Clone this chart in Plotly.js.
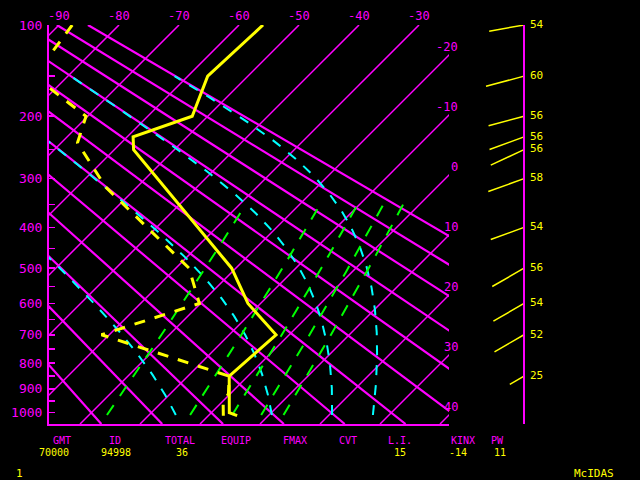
<!DOCTYPE html>
<html><head><meta charset="utf-8">
<script src="https://cdn.plot.ly/plotly-3.0.1.min.js"></script>
<style>html,body{margin:0;padding:0;background:#000;}#chart{width:640px;height:480px;}</style>
</head><body><div id="chart"></div>
<script>
// ---------------- data ----------------
const tempP  = [1013, 1000, 850, 700, 600, 500, 250, 230, 200, 150, 100];
const tempC  = [4.8, 3.0, -3.1, -2.2, -12.1, -20.7, -56.8, -59.0, -52.6, -56.7, -56.0];
const dewP   = [1013, 957, 920, 850, 700, 600, 500, 316, 239, 200, 150, 100];
const dewC   = [2.5, 0.3, -0.3, -3.1, -31.3, -20.2, -27.8, -55.2, -67.3, -70.3, -85.6, -87.8];
const windP   = [100, 150, 200, 230, 250, 300, 400, 500, 600, 700, 850];
const windDir = [260, 255, 255, 250, 245, 250, 250, 240, 240, 240, 240];
const windSpd = [54, 60, 56, 56, 56, 58, 54, 56, 54, 52, 25];
const isotherms     = [-90, -80, -70, -60, -50, -40, -30, -20, -10, 0, 10, 20, 30, 40];
const dryAdiabats   = [-30, -20, -10, 0, 10, 20, 30, 40, 50, 60, 70, 80, 90];   // theta, deg C
const moistAdiabats = [0, 30, 60, 90];                                          // theta-e, deg C
const mixingRatios  = [1, 3, 5, 7, 9];                                          // g/kg
const pressureTicks  = [100,150,200,250,300,350,400,450,500,550,600,650,700,750,800,850,900,950,1000];
const pressureLabels = [100,200,300,400,500,600,700,800,900,1000];
const statNames  = ['GMT', 'ID', 'TOTAL', 'EQUIP', 'FMAX', 'CVT', 'L.I.', 'KINX', 'PW'];
const statValues = ['70000', '94998', '36', '', '', '', '15', '-14', '11'];

// ---------------- diagram geometry ----------------
const KAP = 0.286, PTOP = 100, PBOT = 1050;
const S = p => Math.pow(p, KAP);
const sTop = S(PTOP), sBot = S(PBOT);
const ML = 49, MT = 25, PLOT_W = 591, PLOT_H = 399, DIAG_W = 400;
const PX_PER_S = PLOT_H / (sBot - sTop), PX_PER_C = 6;
const SKEW = PX_PER_S / PX_PER_C;
const XMIN = -91.67, XMAX = XMIN + DIAG_W / PX_PER_C;
const X = (T, p) => T - SKEW * (S(p) - sTop);
const MAG = '#ff00ff', YEL = '#ffff00', CYA = '#00ffff', GRN = '#00ff00';
const FONT = 'DejaVu Sans Mono, monospace';
const px2paperX = px => (px - ML) / PLOT_W;
const px2paperY = py => (MT + PLOT_H - py) / PLOT_H;

function esat(Tc) { return 6.112 * Math.exp(17.67 * Tc / (Tc + 243.5)); }
function thetaE(Tc, p) {
  const T = Tc + 273.15, es = esat(Tc);
  if (es > 0.5 * p) return 1e9;
  const ws = 0.622 * es / (p - es);
  return T * Math.pow(1000 / p, KAP) * Math.exp(2.5e6 * ws / (1004 * T));
}
function moistT(thK, p) {
  let lo = -140, hi = 60;
  for (let i = 0; i < 60; i++) { const m = (lo + hi) / 2; if (thetaE(m, p) > thK) hi = m; else lo = m; }
  return (lo + hi) / 2;
}
function mixT(w, p) {
  const es = w * p / (622 + w), l = Math.log(es / 6.112);
  return 243.5 * l / (17.67 - l);
}
function levels(p0, p1, dp) { const a = []; for (let p = p0; p >= p1; p -= dp) a.push(p); return a; }

const traces = [];
// isotherms
isotherms.forEach(T => traces.push({
  x: [X(T, PBOT), X(T, PTOP)], y: [S(PBOT), S(PTOP)], mode: 'lines',
  line: {color: MAG, width: 1.5}, hoverinfo: 'skip', showlegend: false }));
// dry adiabats
dryAdiabats.forEach(th => {
  const ps = [PBOT, PTOP];
  traces.push({ x: ps.map(p => X((th + 273.15) * Math.pow(p / 1000, KAP) - 273.15, p)), y: ps.map(S),
    mode: 'lines', line: {color: MAG, width: 2.2}, hoverinfo: 'skip', showlegend: false });
});
// moist adiabats
moistAdiabats.forEach(th => {
  const ps = levels(1010, 150, 5);
  traces.push({ x: ps.map(p => X(moistT(th + 273.15, p), p)), y: ps.map(S), mode: 'lines',
    line: {color: CYA, width: 2, dash: '10px,10px'}, hoverinfo: 'skip', showlegend: false });
});
// mixing ratio lines
mixingRatios.forEach(w => {
  const ps = levels(1010, 350, 10);
  traces.push({ x: ps.map(p => X(mixT(w, p), p)), y: ps.map(S), mode: 'lines',
    line: {color: GRN, width: 2, dash: '12px,11px'}, hoverinfo: 'skip', showlegend: false });
});
// dewpoint and temperature
traces.push({ x: dewP.map((p, i) => X(dewC[i], p)), y: dewP.map(S), mode: 'lines',
  line: {color: YEL, width: 3, dash: '11px,10px'}, showlegend: false });
traces.push({ x: tempP.map((p, i) => X(tempC[i], p)), y: tempP.map(S), mode: 'lines',
  line: {color: YEL, width: 3}, showlegend: false });
// wind sticks (x2 axis in pixel units, 0 at the wind axis)
const STICK = 0.655;
const wx = [], wy = [];
windP.forEach((p, i) => {
  const a = windDir[i] * Math.PI / 180, L = STICK * windSpd[i];
  wx.push(0, L * Math.sin(a), null);
  wy.push(S(p), S(p) - L * Math.cos(a) / PX_PER_S, null);
});
traces.push({ x: wx, y: wy, xaxis: 'x2', yaxis: 'y', mode: 'lines',
  line: {color: YEL, width: 1.5}, showlegend: false });
traces.push({ x: windP.map(() => 6), y: windP.map(S), xaxis: 'x2', yaxis: 'y', mode: 'text',
  text: windSpd.map(String), textposition: 'middle right', cliponaxis: false,
  textfont: {family: FONT, size: 11, color: YEL}, showlegend: false });

// annotations
const ann = [];
isotherms.forEach(T => {
  if (T >= XMIN && T <= XMAX) ann.push({ xref: 'x', x: T, yref: 'paper', y: px2paperY(16),
    text: String(T), showarrow: false, xanchor: 'center', yanchor: 'middle',
    font: {family: FONT, size: 12, color: MAG} });
  const sEdge = sTop + (T - XMAX) / SKEW;
  if (T > XMAX && sEdge <= sBot) ann.push({ xref: 'x', x: XMAX, xshift: 11, yref: 'y', y: sEdge, yshift: 8,
    text: String(T), showarrow: false, xanchor: 'right', yanchor: 'middle',
    font: {family: FONT, size: 12, color: MAG} });
});
const statX = [62, 115, 180, 236, 295, 348, 400, 463, 497];
const valX  = [54, 116, 182, 236, 295, 348, 400, 458, 500];
statNames.forEach((n, i) => {
  ann.push({ xref: 'paper', x: px2paperX(statX[i]), yref: 'paper', y: px2paperY(440), text: n,
    showarrow: false, xanchor: 'center', yanchor: 'middle', font: {family: FONT, size: 10, color: MAG} });
  if (statValues[i]) ann.push({ xref: 'paper', x: px2paperX(valX[i]), yref: 'paper', y: px2paperY(452),
    text: statValues[i], showarrow: false, xanchor: 'center', yanchor: 'middle',
    font: {family: FONT, size: 10, color: YEL} });
});
ann.push({ xref: 'paper', x: px2paperX(19), yref: 'paper', y: px2paperY(474), text: '1', showarrow: false,
  xanchor: 'center', yanchor: 'middle', font: {family: FONT, size: 11, color: YEL} });
ann.push({ xref: 'paper', x: px2paperX(594), yref: 'paper', y: px2paperY(473), text: 'McIDAS', showarrow: false,
  xanchor: 'center', yanchor: 'middle', font: {family: FONT, size: 11, color: YEL} });

const layout = {
  width: 640, height: 480, margin: {l: ML, r: 640 - ML - PLOT_W, t: MT, b: 480 - MT - PLOT_H},
  paper_bgcolor: '#000', plot_bgcolor: '#000', showlegend: false,
  xaxis: { domain: [0, DIAG_W / PLOT_W], range: [XMIN, XMAX], showgrid: false, zeroline: false,
    showticklabels: false, ticks: '', showline: true, linecolor: MAG, linewidth: 2, fixedrange: true },
  xaxis2: { domain: [px2paperX(470), px2paperX(560)], range: [-54, 36], anchor: 'y', visible: false,
    showgrid: false, zeroline: false, fixedrange: true },
  yaxis: { range: [sBot, sTop], showgrid: false, zeroline: false, showline: true, linecolor: MAG, linewidth: 2,
    ticks: 'inside', ticklen: 6, tickwidth: 1.5, tickcolor: MAG, tickmode: 'array',
    tickvals: pressureTicks.map(S),
    ticktext: pressureTicks.map(p => pressureLabels.includes(p) ? String(p) : ''),
    tickfont: {family: FONT, size: 13, color: MAG}, ticklabelstandoff: 2, fixedrange: true },
  shapes: [{ type: 'line', xref: 'x2', yref: 'y domain', x0: 0, x1: 0, y0: 0, y1: 1,
    line: {color: MAG, width: 2} }],
  annotations: ann
};
Plotly.newPlot('chart', traces, layout, {staticPlot: true, displayModeBar: false});
</script></body></html>
